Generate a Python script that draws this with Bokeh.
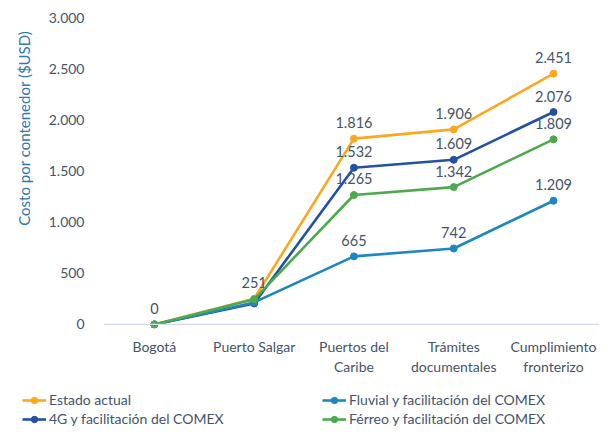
from bokeh.plotting import figure
from bokeh.layouts import column, row
from bokeh.models import (ColumnDataSource, FixedTicker, Span, Legend, LegendItem, Title, Range1d)
from bokeh.core.properties import value
from bokeh.embed import file_html
from bokeh.resources import INLINE

# ---- data ----
categories = ["Bogotá", "Puerto Salgar", "Puertos del\nCaribe", "Trámites\ndocumentales", "Cumplimiento\nfronterizo"]
estado_actual = [0, 251, 1816, 1906, 2451]
g4_comex = [0, 205, 1532, 1609, 2076]
fluvial_comex = [0, 215, 665, 742, 1209]
ferreo_comex = [0, 245, 1265, 1342, 1809]
y_ticks = [0, 500, 1000, 1500, 2000, 2500, 3000]
y_tick_labels = ["0", "500", "1.000", "1.500", "2.000", "2.500", "3.000"]
# which points carry a data label
estado_label_idx = [0, 1, 2, 3, 4]
other_label_idx = [2, 3, 4]

series_names = ["Estado actual", "4G y facilitación del COMEX",
                "Fluvial y facilitación del COMEX", "Férreo y facilitación del COMEX"]
series_vals = [estado_actual, g4_comex, fluvial_comex, ferreo_comex]
series_colors = ["#FBA81E", "#2250A6", "#1E87C0", "#4DAA4C"]
series_label_idx = [estado_label_idx, other_label_idx, other_label_idx, other_label_idx]

FONT = "Lato"
TXT = "#44546A"

def fmt(v):
    return f"{v:,}".replace(",", ".")

xs = list(range(len(categories)))

p = figure(width=599, height=392, output_backend="svg", toolbar_location=None,
           x_range=Range1d(-0.51, 4.461), y_range=Range1d(-40, 3000),
           min_border_left=92, min_border_right=0, min_border_top=17, min_border_bottom=64)
p.outline_line_color = None
p.xgrid.visible = False
p.ygrid.visible = False

# zero baseline
p.add_layout(Span(location=0, dimension="width", line_color="#CFDCEB", line_width=1.2))

for name, vals, col, idx in zip(series_names, series_vals, series_colors, series_label_idx):
    src = ColumnDataSource(dict(x=xs, y=vals))
    p.line("x", "y", source=src, line_color=col, line_width=2.6)
    p.scatter("x", "y", source=src, size=7, fill_color=col, line_color=col)
    lsrc = ColumnDataSource(dict(x=[xs[i] for i in idx], y=[vals[i] for i in idx],
                                 t=[fmt(vals[i]) for i in idx]))
    p.text("x", "y", text="t", source=lsrc, text_font=value(FONT), text_font_size="14.5px",
           text_color=TXT, text_align="center", text_baseline="middle", y_offset=-16)

# axes
p.xaxis.ticker = FixedTicker(ticks=xs)
p.xaxis.major_label_overrides = {i: c for i, c in enumerate(categories)}
p.xaxis.axis_line_color = None
p.xaxis.major_tick_line_color = None
p.xaxis.minor_tick_line_color = None
p.xaxis.major_label_standoff = 3
p.xaxis.major_label_text_font = FONT
p.xaxis.major_label_text_font_size = "14px"
p.xaxis.major_label_text_color = TXT

p.yaxis.ticker = FixedTicker(ticks=y_ticks)
p.yaxis.major_label_overrides = {t: l for t, l in zip(y_ticks, y_tick_labels)}
p.yaxis.axis_line_color = None
p.yaxis.major_tick_line_color = None
p.yaxis.minor_tick_line_color = None
p.yaxis.major_label_standoff = 13
p.yaxis.major_label_text_font = FONT
p.yaxis.major_label_text_font_size = "14px"
p.yaxis.major_label_text_color = TXT

p.add_layout(Title(text="Costo por contenedor ($USD)", align="right", offset=13,
                   text_font=FONT, text_font_size="15px", text_font_style="normal",
                   text_color="#2E78B4", standoff=25), "left")

# ---- legend strip (separate figure so the legend is not clipped) ----
lg = figure(width=599, height=35, output_backend="svg", toolbar_location=None,
            x_range=Range1d(0, 1), y_range=Range1d(0, 1),
            x_axis_location=None, y_axis_location=None,
            min_border_left=0, min_border_right=0, min_border_top=0, min_border_bottom=0)
lg.outline_line_color = None
lg.xgrid.visible = False
lg.ygrid.visible = False

leg_items = []
for name, col in zip(series_names, series_colors):
    es = ColumnDataSource(dict(x=[float("nan")], y=[float("nan")]))
    ln = lg.line("x", "y", source=es, line_color=col, line_width=2.6)
    sc = lg.scatter("x", "y", source=es, size=6, fill_color=col, line_color=col)
    leg_items.append(LegendItem(label=name, renderers=[ln, sc]))

def make_legend(items, loc):
    leg = Legend(items=items, location=loc, orientation="vertical",
                 glyph_width=24, glyph_height=16, label_height=16,
                 label_standoff=3, spacing=2, padding=0, margin=0,
                 label_text_font=FONT, label_text_font_size="14px", label_text_color=TXT,
                 background_fill_alpha=0, border_line_alpha=0)
    lg.add_layout(leg, "center")

make_legend([leg_items[0], leg_items[1]], (22, 0))
make_legend([leg_items[2], leg_items[3]], (322, 0))

layout = column(p, row(lg), spacing=0)
open("out.html", "w").write(file_html(layout, INLINE))
